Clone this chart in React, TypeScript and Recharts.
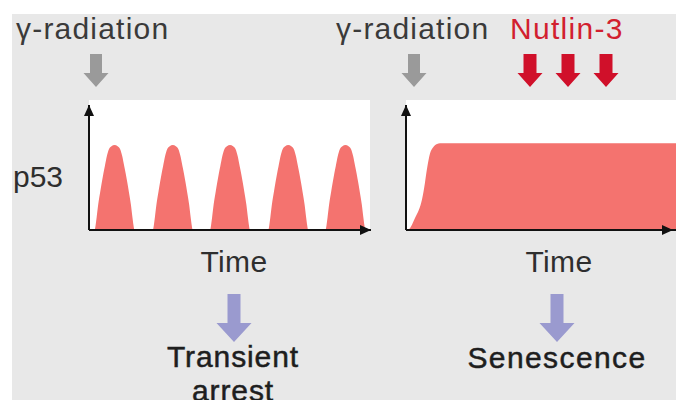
import React from 'react';
import { AreaChart, Area, XAxis, YAxis, ReferenceDot } from 'recharts';

// Left panel: oscillating p53 pulses after γ-radiation
const leftTime = [
  0,
  5.5, 6.5, 7.5, 9, 11, 12.5, 14, 15.5, 17.5, 19.5, 22, 25, 28, 30.5, 32.5, 34.5, 36, 37.5, 39, 41, 42.5, 43.5, 44.5,
  62.5, 63.5, 64.5, 66, 68, 69.5, 71, 72.5, 74.5, 76.5, 79, 82, 85, 87.5, 89.5, 91.5, 93, 94.5, 96, 98, 99.5, 100.5, 101.5,
  118.5, 119.5, 120.5, 122, 124, 125.5, 127, 128.5, 130.5, 132.5, 135, 138, 141, 143.5, 145.5, 147.5, 149, 150.5, 152, 154, 155.5, 156.5, 157.5,
  175.5, 176.5, 177.5, 179, 181, 182.5, 184, 185.5, 187.5, 189.5, 192, 195, 198, 200.5, 202.5, 204.5, 206, 207.5, 209, 211, 212.5, 213.5, 214.5,
  231.5, 232.5, 233.5, 235, 237, 238.5, 240, 241.5, 243.5, 245.5, 248, 251, 254, 256.5, 258.5, 260.5, 262, 263.5, 265, 267, 268.5, 269.5, 270.5,
  276,
];
const leftP53 = [
  0,
  0, 0.06, 0.15, 0.3, 0.45, 0.56, 0.66, 0.75, 0.87, 0.95, 0.985, 1, 0.985, 0.95, 0.87, 0.75, 0.66, 0.56, 0.45, 0.3, 0.15, 0.06, 0,
  0, 0.06, 0.15, 0.3, 0.45, 0.56, 0.66, 0.75, 0.87, 0.95, 0.985, 1, 0.985, 0.95, 0.87, 0.75, 0.66, 0.56, 0.45, 0.3, 0.15, 0.06, 0,
  0, 0.06, 0.15, 0.3, 0.45, 0.56, 0.66, 0.75, 0.87, 0.95, 0.985, 1, 0.985, 0.95, 0.87, 0.75, 0.66, 0.56, 0.45, 0.3, 0.15, 0.06, 0,
  0, 0.06, 0.15, 0.3, 0.45, 0.56, 0.66, 0.75, 0.87, 0.95, 0.985, 1, 0.985, 0.95, 0.87, 0.75, 0.66, 0.56, 0.45, 0.3, 0.15, 0.06, 0,
  0, 0.06, 0.15, 0.3, 0.45, 0.56, 0.66, 0.75, 0.87, 0.95, 0.985, 1, 0.985, 0.95, 0.87, 0.75, 0.66, 0.56, 0.45, 0.3, 0.15, 0.06, 0,
  0,
];

// Right panel: sustained p53 with Nutlin-3
const rightTime = [0, 2, 5, 9, 13, 16, 19, 21, 24, 27, 31, 34, 270];
const rightP53 = [0, 0, 0.04, 0.14, 0.24, 0.36, 0.56, 0.72, 0.9, 0.97, 1.01, 1.02, 1.02];

const axisLabel = 'Time';
const yLabel = 'p53';
const stimulus = 'γ-radiation';
const drug = 'Nutlin-3';
const leftOutcome = ['Transient', 'arrest'];
const rightOutcome = 'Senescence';

const leftData = leftTime.map((t, i) => ({ t, v: leftP53[i] }));
const rightData = rightTime.map((t, i) => ({ t, v: rightP53[i] }));

const FILL = '#f4736f';
const AXIS = '#111';
const FONT = '"Liberation Sans", Arial, Helvetica, sans-serif';
const YMAX = 1.47;

const arrowRight = (props: any) => {
  const { cx, cy } = props;
  return <polygon points={`${cx},${cy} ${cx - 11},${cy - 5} ${cx - 11},${cy + 5}`} fill={AXIS} />;
};
const arrowUp = (props: any) => {
  const { cx, cy } = props;
  return <polygon points={`${cx},${cy} ${cx - 5},${cy + 11} ${cx + 5},${cy + 11}`} fill={AXIS} />;
};

function DownArrow({ cx, top, headY, tip, shaftW, headW, color }: any) {
  const s = shaftW / 2;
  const h = headW / 2;
  const pts = [
    [cx - s, top], [cx + s, top], [cx + s, headY], [cx + h, headY],
    [cx, tip], [cx - h, headY], [cx - s, headY],
  ].map((p) => p.join(',')).join(' ');
  return <polygon points={pts} fill={color} />;
}

function Panel({ data, domainMax, arrowX, width }: any) {
  return (
    <AreaChart width={width} height={138} data={data} margin={{ top: 7, right: 0, left: 0, bottom: 0 }}>
      <XAxis dataKey="t" type="number" domain={[0, domainMax]} tick={false} tickLine={false}
        axisLine={{ stroke: AXIS, strokeWidth: 2 }} height={6} allowDataOverflow />
      <YAxis type="number" domain={[0, YMAX]} tick={false} tickLine={false}
        axisLine={{ stroke: AXIS, strokeWidth: 2 }} width={9} allowDataOverflow />
      <Area type="monotone" dataKey="v" stroke="none" fill={FILL} fillOpacity={1} isAnimationActive={false} />
      <ReferenceDot x={arrowX} y={0} r={0} shape={arrowRight} ifOverflow="visible" />
      <ReferenceDot x={0} y={YMAX} r={0} shape={arrowUp} ifOverflow="visible" />
    </AreaChart>
  );
}

export default function App() {
  const textColor = '#2e2e2e';
  const boldColor = '#1e1e1e';
  return (
    <div style={{ position: 'absolute', left: 0, top: 0, width: 676, height: 400, background: '#fff', overflow: 'hidden', fontFamily: FONT }}>
      <div style={{ position: 'absolute', left: 12, top: 14, width: 664, height: 386, background: '#e8e8e8' }} />
      <div style={{ position: 'absolute', left: 89, top: 100, width: 281, height: 131, background: '#fff' }} />
      <div style={{ position: 'absolute', left: 406, top: 100, width: 270, height: 131, background: '#fff' }} />
      <div style={{ position: 'absolute', left: 80, top: 98 }}>
        <Panel data={leftData} domainMax={276} arrowX={276} width={291} />
      </div>
      <div style={{ position: 'absolute', left: 397, top: 98 }}>
        <Panel data={rightData} domainMax={270} arrowX={267} width={279} />
      </div>
      <svg width={676} height={400} style={{ position: 'absolute', left: 0, top: 0, pointerEvents: 'none' }}>
        <g fontFamily={FONT} fontSize={30}>
          <text x={16} y={39} fill="#3a3a3a" letterSpacing={1.2}>{stimulus}</text>
          <text x={336} y={39} fill="#3a3a3a" letterSpacing={1.2}>{stimulus}</text>
          <text x={510} y={39} fill="#d21f2f" letterSpacing={1.3}>{drug}</text>
          <text x={13} y={187} fill={textColor}>{yLabel}</text>
          <text x={234} y={272} fill={textColor} textAnchor="middle" letterSpacing={0.3}>{axisLabel}</text>
          <text x={559} y={272} fill={textColor} textAnchor="middle" letterSpacing={0.3}>{axisLabel}</text>
          <text x={233} y={367} fill={boldColor} stroke={boldColor} strokeWidth={0.5} textAnchor="middle" letterSpacing={0.9}>{leftOutcome[0]}</text>
          <text x={233} y={401} fill={boldColor} stroke={boldColor} strokeWidth={0.5} textAnchor="middle" letterSpacing={0.9}>{leftOutcome[1]}</text>
          <text x={557} y={368} fill={boldColor} stroke={boldColor} strokeWidth={0.5} textAnchor="middle" letterSpacing={1.4}>{rightOutcome}</text>
        </g>
        <DownArrow cx={96} top={54} headY={73} tip={87} shaftW={12} headW={25} color="#9a9a9a" />
        <DownArrow cx={414} top={54} headY={73} tip={87} shaftW={12} headW={25} color="#9a9a9a" />
        <DownArrow cx={530} top={54} headY={73} tip={87} shaftW={13} headW={25} color="#d0102a" />
        <DownArrow cx={568} top={54} headY={73} tip={87} shaftW={13} headW={25} color="#d0102a" />
        <DownArrow cx={606} top={54} headY={73} tip={87} shaftW={13} headW={25} color="#d0102a" />
        <DownArrow cx={234} top={294} headY={323} tip={342} shaftW={13} headW={35} color="#9a9acf" />
        <DownArrow cx={557} top={294} headY={323} tip={342} shaftW={13} headW={35} color="#9a9acf" />
      </svg>
    </div>
  );
}
